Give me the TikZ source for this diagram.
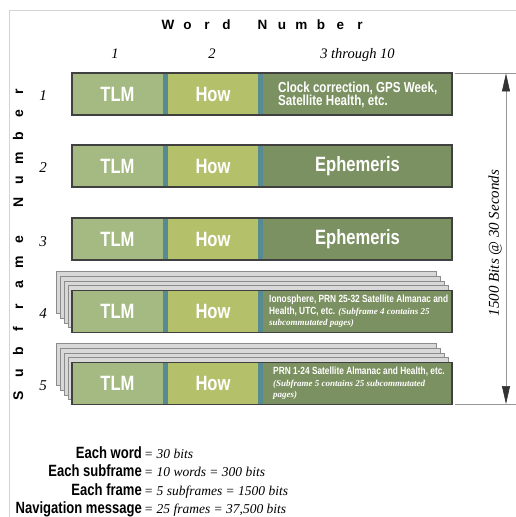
\documentclass[tikz,border=0pt]{standalone}
\usepackage{fontspec}
\setmainfont{Liberation Serif}
\newfontfamily\narrowsans{Liberation Sans}[FakeStretch=0.8]
\newfontfamily\plainsans{Liberation Sans}
\usetikzlibrary{arrows.meta}

\definecolor{tlmgreen}{RGB}{164,186,130}
\definecolor{howgreen}{RGB}{180,192,106}
\definecolor{datagreen}{RGB}{124,145,97}
\definecolor{divteal}{RGB}{88,138,146}
\definecolor{rowedge}{RGB}{64,64,64}
\definecolor{sheetfill}{RGB}{216,216,216}
\definecolor{sheetedge}{RGB}{140,140,140}
\definecolor{framegray}{RGB}{212,212,212}
\definecolor{dimgray}{RGB}{150,150,150}
\definecolor{tipgray}{RGB}{50,50,50}

% fonts
\newcommand\bigword{\narrowsans\bfseries\fontsize{20.7bp}{24bp}\selectfont}
\newcommand\midword{\narrowsans\bfseries\fontsize{14.5bp}{13.5bp}\selectfont}
\newcommand\smallword{\narrowsans\bfseries\fontsize{10.4bp}{11.5bp}\selectfont}
\newcommand\noteit{\rmfamily\itshape\fontsize{9bp}{11.5bp}\selectfont}
\newcommand\titlebox[1]{\makebox[19.5bp]{#1}}
\newcommand\sidebox[1]{\makebox[22.3bp]{#1}}

\tikzset{
  part/.style={rectangle, inner sep=0pt, outer sep=0pt, minimum height=42bp,
    text=white, font=\bigword},
  tlmbox/.style={part, fill=tlmgreen, minimum width=91bp},
  howbox/.style={part, fill=howgreen, minimum width=90bp},
  databox/.style={part, fill=datagreen, minimum width=189bp},
  divbox/.style={part, fill=divteal, minimum width=5bp},
  rowframe/.style={draw=rowedge, line width=1.3bp},
  sheet/.style={draw=sheetedge, fill=sheetfill, line width=0.6bp},
  datatext/.style={anchor=west, inner sep=0pt, align=left, text=white},
  rownum/.style={font=\itshape\fontsize{15bp}{18bp}\selectfont, anchor=base, inner sep=0pt},
  colnum/.style={font=\itshape\fontsize{14.5bp}{18bp}\selectfont, anchor=base, inner sep=0pt},
  axislabel/.style={font=\plainsans\bfseries\fontsize{13.5bp}{16bp}\selectfont, inner sep=0pt},
  eqleft/.style={font=\narrowsans\bfseries\fontsize{16.3bp}{19bp}\selectfont, anchor=base east, inner sep=0pt},
  eqright/.style={font=\itshape\fontsize{13.5bp}{16bp}\selectfont, anchor=base west, inner sep=0pt},
  dimline/.style={draw=dimgray, line width=0.6bp},
}

% one subframe bar: name, vertical centre, text of words 3-10
\newcommand\sfrow[3]{%
  \node[tlmbox] (#1tlm) at (117.5,#2) {TLM};
  \node[divbox] (#1da) at (165.5,#2) {};
  \node[howbox] (#1how) at (213,#2) {How};
  \node[divbox] (#1db) at (260.5,#2) {};
  \node[databox] (#1data) at (357.5,#2) {#3};
  \draw[rowframe] (#1tlm.north west) rectangle (#1data.south east);
}
% pages stacked behind a bar whose top edge is at #1
\newcommand\pagestack[1]{%
  \foreach \k in {4,3,2,1}
    \draw[sheet] ({72-3.9*\k},{#1-4.75*\k}) rectangle ({452-3.9*\k},{#1+42-4.75*\k});
}

\begin{document}
\begin{tikzpicture}[x=1bp,y=-1bp]
\useasboundingbox (0,0) rectangle (516,517);
\fill[white] (0,0) rectangle (516,517);
\draw[framegray, line width=0.8bp] (9.5,517) -- (9.5,10.5) -- (516,10.5);

% axis titles
\node[axislabel, anchor=base] (wordtitle) at (264,30)
  {\titlebox{W}\titlebox{o}\titlebox{r}\titlebox{d}\hspace{16.5bp}\titlebox{N}\titlebox{u}\titlebox{m}\titlebox{b}\titlebox{e}\titlebox{r}};
\node[axislabel, font=\plainsans\bfseries\fontsize{14bp}{16bp}\selectfont, rotate=90] (sftitle) at (18,243.7)
  {\sidebox{S}\sidebox{u}\sidebox{b}\sidebox{f}\sidebox{r}\sidebox{a}\sidebox{m}\sidebox{e}\hspace{14.7bp}\sidebox{N}\sidebox{u}\sidebox{m}\sidebox{b}\sidebox{e}\sidebox{r}};

% word numbers
\node[colnum] (w1) at (115,58.3) {1};
\node[colnum] (w2) at (212,58.3) {2};
\node[colnum] (w3) at (357.5,58.3) {3 through 10};

% subframes
\sfrow{a}{94}{}
\node[datatext, font=\midword] (atext) at (278,95) {Clock correction, GPS Week,\\Satellite Health, etc.};
\sfrow{b}{166}{Ephemeris}
\sfrow{c}{239}{Ephemeris}
\pagestack{290.5}
\sfrow{d}{311.5}{}
\node[datatext, font=\smallword] (dtext) at (269,311.5)
  {Ionosphere, PRN 25-32 Satellite Almanac and\\
   Health, UTC, etc. {\noteit (Subframe 4 contains 25}\\
   {\noteit subcommutated pages)}};
\pagestack{362.5}
\sfrow{e}{383.5}{}
\node[datatext, font=\smallword] (etext) at (273,383.5)
  {PRN 1-24 Satellite Almanac and Health, etc.\\
   {\noteit (Subframe 5 contains 25 subcommutated}\\
   {\noteit pages)}};

% subframe numbers
\node[rownum] (n1) at (43,101) {1};
\node[rownum] (n2) at (43,173) {2};
\node[rownum] (n3) at (43,246) {3};
\node[rownum] (n4) at (43,318.5) {4};
\node[rownum] (n5) at (43,390.5) {5};

% frame duration dimension
\coordinate (dimtop) at (506,73.5);
\coordinate (dimbot) at (506,404);
\draw[dimline] (455,73.5) -- (516,73.5);
\draw[dimline] (455,404) -- (516,404);
\draw[dimline, {Triangle[length=18bp,width=8bp,color=tipgray]}-{Triangle[length=18bp,width=8bp,color=tipgray]}]
  (dimtop) -- (dimbot);
\node[font=\itshape\fontsize{15bp}{18bp}\selectfont, rotate=90, inner sep=0pt] (dur) at (495,243)
  {1500 Bits @ 30 Seconds};

% bit counts
\node[eqleft] (l1) at (142,458.5) {Each word};
\node[eqright] (r1) at ([xshift=2bp]l1.base east) {= 30 bits};
\node[eqleft] (l2) at (142,476.7) {Each subframe};
\node[eqright] (r2) at ([xshift=2bp]l2.base east) {= 10 words = 300 bits};
\node[eqleft] (l3) at (142,495) {Each frame};
\node[eqright] (r3) at ([xshift=2bp]l3.base east) {= 5 subframes = 1500 bits};
\node[eqleft] (l4) at (142,513) {Navigation message};
\node[eqright] (r4) at ([xshift=2bp]l4.base east) {= 25 frames = 37,500 bits};
\end{tikzpicture}
\end{document}
